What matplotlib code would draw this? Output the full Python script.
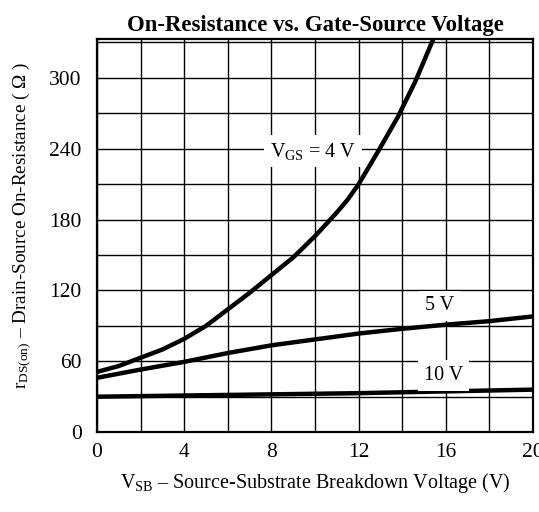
import matplotlib
matplotlib.use("Agg")
import matplotlib.pyplot as plt
import numpy as np

plt.rcParams['font.family'] = ['Liberation Serif', 'DejaVu Serif']
plt.rcParams['mathtext.fontset'] = 'stix'

# Curvas (V_SB en V, r_DS(on) en ohm)
vsb_4v = [0, 1, 2, 3, 4, 5, 6, 7, 8, 9, 10, 11, 11.5, 12, 12.9, 13.8, 14.6, 15.45]
r_4v = [51, 56, 63, 70, 79, 90, 104, 118, 133, 148, 166, 186, 197, 210, 238, 267, 297, 334]

vsb_5v = [0, 2, 4, 6, 8, 10, 12, 14, 16, 18, 20]
r_5v = [46, 53, 59.5, 67, 73.5, 78.5, 83.5, 87.5, 91, 94, 98]

vsb_10v = [0, 4, 8, 12, 16, 20]
r_10v = [30, 31, 32, 33, 34.5, 36]

x_ticks = [0, 4, 8, 12, 16, 20]
y_ticks = [0, 60, 120, 180, 240, 300]

fig = plt.figure(figsize=(5.39, 5.12), dpi=100)
ax = fig.add_axes([0.180, 0.156, 0.809, 0.768])

ax.set_xlim(0, 20)
ax.set_ylim(0, 333)
ax.set_xticks(x_ticks)
ax.set_yticks(y_ticks)
ax.set_xticks(np.arange(0, 21, 2), minor=True)
ax.set_yticks(np.arange(0, 331, 30), minor=True)
ax.grid(True, which='both', color='black', linewidth=1.0)
ax.tick_params(which='both', length=0, labelsize=15.5)
ax.tick_params(axis='y', pad=11)
ax.tick_params(axis='x', pad=8)
for s in ax.spines.values():
    s.set_linewidth(1.6)

ax.plot(vsb_4v, r_4v, color='black', linewidth=3.2)
ax.plot(vsb_5v, r_5v, color='black', linewidth=3.2)
ax.plot(vsb_10v, r_10v, color='black', linewidth=3.2)

box = dict(facecolor='white', edgecolor='none', pad=4)
ax.text(9.9, 238, r'$\mathregular{V_{GS}}$ = 4 V', fontsize=14.5, ha='center', va='center', bbox=box)
ax.text(15.7, 107, '5 V', fontsize=14.5, ha='center', va='center', bbox=box)
ax.text(15.9, 48, '10 V', fontsize=14.5, ha='center', va='center', bbox=box)

ax.set_title('On-Resistance vs. Gate-Source Voltage', fontsize=16.4, fontweight='bold', pad=6)
ax.set_xlabel(r'$\mathregular{V_{SB}}$ – Source-Substrate Breakdown Voltage (V)', fontsize=14.5, labelpad=6)
ax.set_ylabel(r'$\mathregular{r_{DS(on)}}$ – Drain-Source On-Resistance ( Ω )', fontsize=13.8)
ax.yaxis.set_label_coords(-0.147, 0.527)

fig.savefig('out.png', dpi=100)
